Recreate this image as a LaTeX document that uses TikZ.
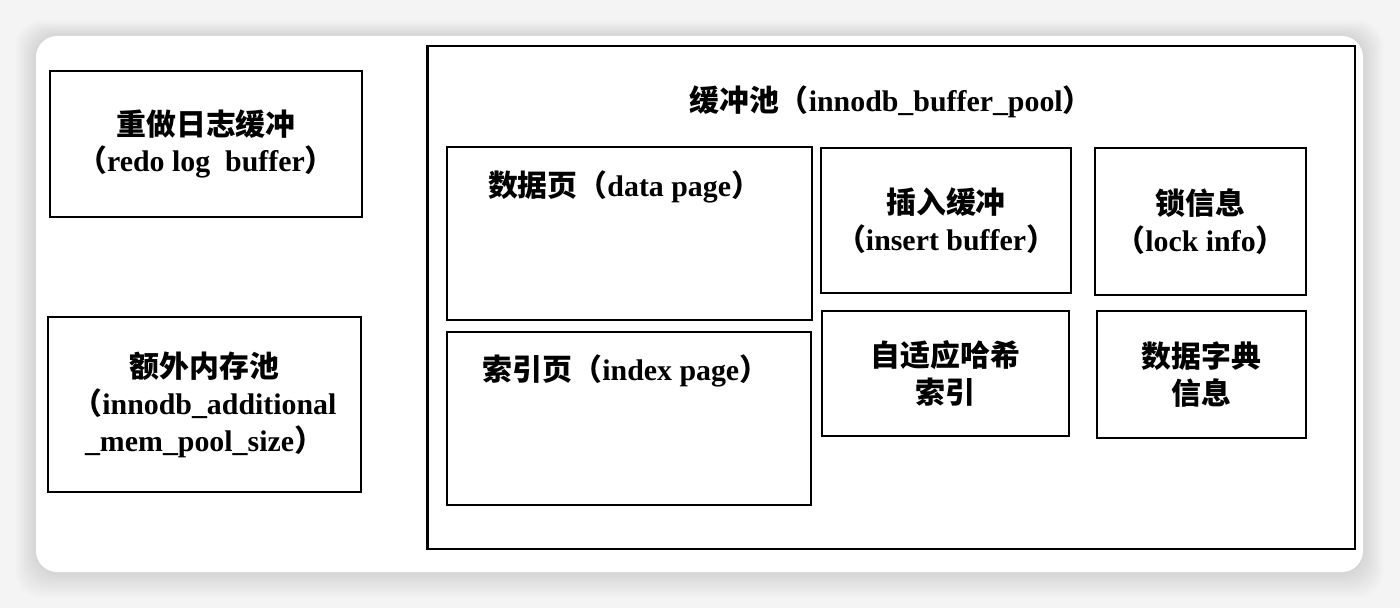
\documentclass[tikz,border=0pt]{standalone}
\usepackage{fontspec}
\setmainfont{Liberation Serif}
\newfontfamily\cjk{Noto Sans CJK SC}
\usetikzlibrary{positioning}
\newcommand{\zh}[1]{{\cjk\bfseries #1}}
\tikzset{
  membox/.style={draw, line width=1.6pt, inner sep=0pt, align=center,
    font=\fontsize{17}{21}\selectfont\bfseries},
  memtext/.style={inner sep=0pt, align=center, font=\fontsize{17}{21}\selectfont\bfseries}
}
\begin{document}
\begin{tikzpicture}[x=0.02cm, y=-0.02cm]
    % Sfondo e scheda
    \useasboundingbox (0,0) rectangle (1400,608);
    \fill[gray!9] (0,0) rectangle (1400,608);
    \foreach \s in {1,...,10} {
        \fill[black, opacity=0.012, rounded corners=14] (36-\s*2,36-\s*1.5) rectangle (1363+\s*2,572+\s*2.5);
    }
    \fill[white, rounded corners=12] (36,36) rectangle (1363,572);

    % Riquadri a sinistra
    \node[membox, minimum width=6.24cm, minimum height=2.92cm] (redo) at (206,144)
        {\zh{重做日志缓冲}\\\zh{（}redo log\ \ buffer\zh{）}};
    \node[membox, minimum width=6.26cm, minimum height=3.5cm] (addl) at (204.5,404.5)
        {\zh{额外内存池}\\\zh{（}innodb\_additional\\\_mem\_pool\_size\zh{）}};

    % Buffer pool e contenuto
    \node[membox, minimum width=18.56cm, minimum height=10.06cm] (pool) at (891,297.5) {};
    \node[memtext] (pooltitle) at ([yshift=-1.14cm]pool.north) {\zh{缓冲池（}innodb\_buffer\_pool\zh{）}};

    \node[membox, minimum width=7.3cm, minimum height=3.46cm] (data) at (629.5,233.5) {};
    \node[memtext] (datatitle) at ([xshift=-0.1cm, yshift=-0.82cm]data.north) {\zh{数据页（}data page\zh{）}};
    \node[membox, minimum width=7.28cm, minimum height=3.46cm] (index) at (629,418.5) {};
    \node[memtext] (indextitle) at ([xshift=-0.06cm, yshift=-0.8cm]index.north) {\zh{索引页（}index page\zh{）}};

    \node[membox, minimum width=5.0cm, minimum height=2.9cm] (insert) at (946,220.5)
        {\zh{插入缓冲}\\\zh{（}insert buffer\zh{）}};
    \node[membox, minimum width=4.22cm, minimum height=2.94cm] (lock) at (1200.5,221.5)
        {\zh{锁信息}\\\zh{（}lock info\zh{）}};
    \node[membox, minimum width=4.94cm, minimum height=2.5cm] (hash) at (945.5,373.5)
        {\zh{自适应哈希}\\\zh{索引}};
    \node[membox, minimum width=4.18cm, minimum height=2.54cm] (dict) at (1201.5,374.5)
        {\zh{数据字典}\\\zh{信息}};
\end{tikzpicture}
\end{document}
